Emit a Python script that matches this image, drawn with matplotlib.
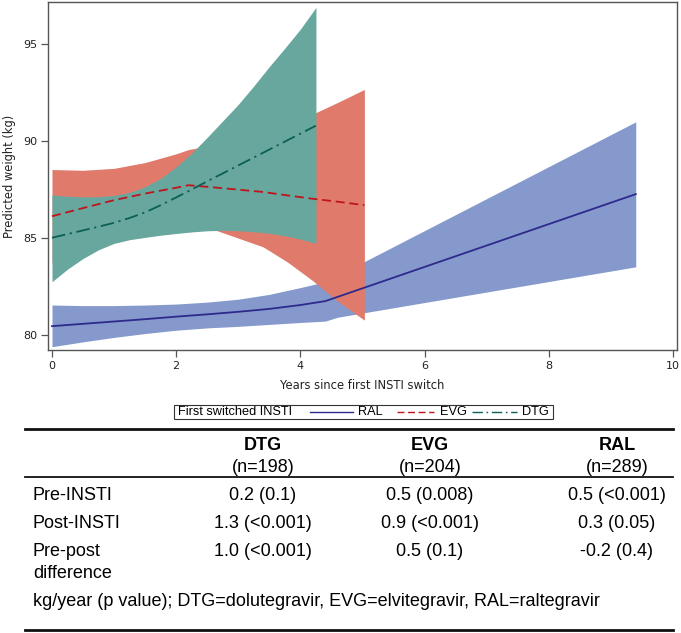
import matplotlib
matplotlib.use("Agg")
import matplotlib.pyplot as plt
from matplotlib.lines import Line2D
from matplotlib.patches import Rectangle

# ---------------- data ----------------
ral_x = [0, 0.5, 1, 1.5, 2, 2.5, 3, 3.5, 4, 4.4, 4.6, 9.4]
ral_y = [80.46, 80.58, 80.70, 80.82, 80.95, 81.07, 81.20, 81.35, 81.55, 81.75, 81.97, 87.27]
ral_hi = [81.55, 81.52, 81.52, 81.55, 81.60, 81.70, 81.85, 82.10, 82.45, 82.75, 83.08, 91.0]
ral_lo = [79.40, 79.65, 79.88, 80.08, 80.25, 80.37, 80.45, 80.55, 80.65, 80.72, 80.92, 83.52]

evg_x = [0, 0.5, 1, 1.5, 2, 2.2, 2.6, 3, 3.4, 3.8, 4.2, 4.6, 5.03]
evg_y = [86.13, 86.55, 86.96, 87.30, 87.60, 87.73, 87.62, 87.50, 87.38, 87.20, 87.03, 86.88, 86.70]
evg_hi = [88.54, 88.50, 88.60, 88.90, 89.35, 89.57, 89.80, 90.00, 90.20, 90.65, 91.40, 92.00, 92.67]
evg_lo = [83.72, 84.60, 85.30, 85.70, 85.85, 85.88, 85.45, 85.00, 84.55, 83.75, 82.80, 81.75, 80.77]

dtg_x = [0, 0.25, 0.5, 0.75, 1, 1.25, 1.5, 1.75, 2, 2.25, 2.5, 2.75, 3, 3.25, 3.5, 3.75, 4, 4.25]
dtg_y = [85.02, 85.21, 85.40, 85.59, 85.79, 86.04, 86.33, 86.70, 87.10, 87.51, 87.93, 88.34,
         88.75, 89.16, 89.57, 89.98, 90.39, 90.80]
dtg_hi = [87.23, 87.16, 87.13, 87.14, 87.20, 87.36, 87.65, 88.08, 88.68, 89.38, 90.20, 91.05,
          91.90, 92.85, 93.85, 94.80, 95.78, 96.90]
dtg_lo = [82.75, 83.40, 83.95, 84.40, 84.73, 84.92, 85.04, 85.15, 85.24, 85.32, 85.38, 85.40,
          85.38, 85.33, 85.25, 85.12, 84.95, 84.73]

x_ticks = [0, 2, 4, 6, 8, 10]
y_ticks = [80, 85, 90, 95]

legend_title = "First switched INSTI"
legend_labels = ["RAL", "EVG", "DTG"]

col_heads = ["DTG", "EVG", "RAL"]
col_ns = ["(n=198)", "(n=204)", "(n=289)"]
row_labels = ["Pre-INSTI", "Post-INSTI", "Pre-post\ndifference"]
cell_values = [
    ["0.2 (0.1)", "0.5 (0.008)", "0.5 (<0.001)"],
    ["1.3 (<0.001)", "0.9 (<0.001)", "0.3 (0.05)"],
    ["1.0 (<0.001)", "0.5 (0.1)", "-0.2 (0.4)"],
]
footnote = "kg/year (p value); DTG=dolutegravir, EVG=elvitegravir, RAL=raltegravir"

# ---------------- style ----------------
W, H = 681, 633
fig = plt.figure(figsize=(W / 100, H / 100), dpi=100)

c_ral_band, c_ral_line = "#8599cc", "#2e2a8c"
c_evg_band, c_evg_line = "#e07b6c", "#c0141c"
c_dtg_band, c_dtg_line = "#67a79d", "#0b6055"
frame = "#555555"

ax = fig.add_axes([48 / W, 1 - 350 / H, 629 / W, 348 / H])
ax.fill_between(ral_x, ral_lo, ral_hi, color=c_ral_band, lw=0, zorder=1)
ax.fill_between(evg_x, evg_lo, evg_hi, color=c_evg_band, lw=0, zorder=2)
ax.fill_between(dtg_x, dtg_lo, dtg_hi, color=c_dtg_band, lw=0, zorder=3)

ls_ral = "-"
ls_evg = (0, (5, 2.6))
ls_dtg = (0, (7.5, 2.6, 1.2, 2.6))
ax.plot(ral_x, ral_y, color=c_ral_line, lw=1.3, ls=ls_ral, zorder=5)
ax.plot(evg_x, evg_y, color=c_evg_line, lw=1.3, ls=ls_evg, zorder=5)
ax.plot(dtg_x, dtg_y, color=c_dtg_line, lw=1.3, ls=ls_dtg, zorder=5)

ax.set_xlim(-0.064, 10.064)
ax.set_ylim(79.23, 97.18)
ax.set_xticks(x_ticks)
ax.set_yticks(y_ticks)
chart_font = "DejaVu Sans"
ax.tick_params(direction="out", length=5, width=0.9, color=frame,
               labelsize=8, pad=3, labelcolor="#222222")
for lab in ax.get_xticklabels() + ax.get_yticklabels():
    lab.set_family(chart_font)
for s in ax.spines.values():
    s.set_color(frame)
    s.set_linewidth(1.0)
ax.set_xlabel("Years since first INSTI switch", fontsize=8.3, family=chart_font,
              color="#222222", labelpad=6)
ax.set_ylabel("Predicted weight (kg)", fontsize=8.3, family=chart_font,
              color="#222222", labelpad=5)

# ---------------- legend box ----------------
def fx(px):
    return px / W

def fy(py):
    return 1 - py / H

leg_font = "Liberation Sans"
leg_size = 9.2
fig.patches.append(Rectangle((fx(174), fy(419)), fx(553) - fx(174), fy(405) - fy(419),
                             transform=fig.transFigure, fill=False, ec="#333333", lw=0.8))
ly = fy(412)
fig.text(fx(178), ly, legend_title, fontsize=leg_size, family=leg_font, va="center", ha="left")
samples = [(310, 353, c_ral_line, ls_ral, 358),
           (397, 434, c_evg_line, ls_evg, 440),
           (472, 517, c_dtg_line, ls_dtg, 522)]
for (x0, x1, c, ls, tx), lab in zip(samples, legend_labels):
    fig.lines.append(Line2D([fx(x0), fx(x1)], [ly, ly], transform=fig.transFigure,
                            color=c, lw=1.0, ls=ls))
    fig.text(fx(tx), ly, lab, fontsize=leg_size, family=leg_font, va="center", ha="left")

# ---------------- table ----------------
tf = "Liberation Sans"
ts = 13
def hline(py, lw):
    fig.lines.append(Line2D([fx(25), fx(673)], [fy(py), fy(py)], transform=fig.transFigure,
                            color="#111111", lw=lw))

hline(429, 2.0)
hline(477, 1.3)
hline(630, 2.0)

col_x = [263, 430, 617]
for cx, h, n in zip(col_x, col_heads, col_ns):
    fig.text(fx(cx), fy(445), h, fontsize=ts, family=tf, weight="bold", ha="center", va="center")
    fig.text(fx(cx), fy(467), n, fontsize=ts, family=tf, ha="center", va="center")

row_y = [496, 523, 552]
for ry, rl, vals in zip(row_y, row_labels, cell_values):
    for i, part in enumerate(rl.split("\n")):
        fig.text(fx(33), fy(ry + 22 * i), part, fontsize=ts, family=tf, ha="left", va="center")
    for cx, v in zip(col_x, vals):
        fig.text(fx(cx), fy(ry), v, fontsize=ts, family=tf, ha="center", va="center")

fig.text(fx(33), fy(602), footnote, fontsize=ts, family=tf, ha="left", va="center")

fig.savefig("out.png", dpi=100)
